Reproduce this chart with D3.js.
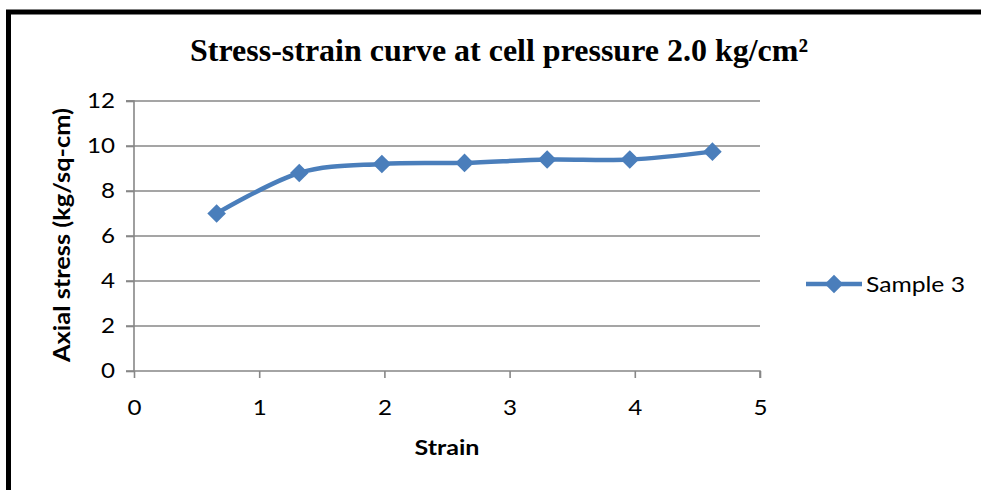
<!DOCTYPE html>
<html><head><meta charset="utf-8">
<script src="https://cdn.jsdelivr.net/npm/d3@7"></script>
<style>body{margin:0;background:#fff}svg{display:block}</style>
</head><body>
<svg id="c" width="981" height="490"></svg>
<script>
const strain = [0.66, 1.32, 1.98, 2.64, 3.30, 3.96, 4.62];
const stress = [7.0, 8.8, 9.2, 9.25, 9.4, 9.4, 9.75];
const xTicks = [0, 1, 2, 3, 4, 5];
const yTicks = [0, 2, 4, 6, 8, 10, 12];
const seriesName = "Sample 3";
const title = "Stress-strain curve at cell pressure 2.0 kg/cm²";
const xTitle = "Strain";
const yTitle = "Axial stress (kg/sq-cm)";

const svg = d3.select("#c");
const blue = "#4A7EBB", grid = "#878787";
const sans = "Lato, 'Open Sans', sans-serif";

function widen(sel, k) {
  sel.each(function () {
    const w = this.getComputedTextLength();
    this.setAttribute("textLength", w * k);
    this.setAttribute("lengthAdjust", "spacingAndGlyphs");
  });
}
function fitTo(sel, target) {
  sel.attr("textLength", target).attr("lengthAdjust", "spacingAndGlyphs");
}

// frame
svg.append("rect").attr("x", 8.5).attr("y", 12).attr("width", 1000).attr("height", 500)
  .attr("fill", "none").attr("stroke", "#000").attr("stroke-width", 5);

const x = d3.scaleLinear().domain([0, 5]).range([134, 760]);
const y = d3.scaleLinear().domain([0, 12]).range([371, 101]);

// gridlines
svg.append("g").selectAll("line").data(yTicks.filter(d => d > 0)).join("line")
  .attr("x1", x(0) - 8).attr("x2", x(5)).attr("y1", d => y(d)).attr("y2", d => y(d))
  .attr("stroke", grid).attr("stroke-width", 1.6);

// axes
const xa = svg.append("g").attr("transform", `translate(0,${y(0)})`)
  .call(d3.axisBottom(x).tickValues(xTicks).tickSize(7).tickPadding(22).tickFormat(d3.format("d")));
const ya = svg.append("g").attr("transform", `translate(${x(0)},0)`)
  .call(d3.axisLeft(y).tickValues(yTicks).tickSize(8).tickPadding(11).tickFormat(d3.format("d")));
[xa, ya].forEach(g => {
  g.select(".domain").attr("stroke", grid).attr("stroke-width", 1.6);
  g.selectAll(".tick line").attr("stroke", grid).attr("stroke-width", 1.6);
  g.selectAll("text").attr("fill", "#000").style("font-family", sans).style("font-size", "21px");
  widen(g.selectAll("text"), 1.15);
});
ya.select(".domain").attr("d", `M-8,${y(12)}H0V${y(0)}H-8`);
xa.select(".domain").attr("d", `M${x(0)},0H${x(5)}V7`);

// series
const pts = strain.map((s, i) => [x(s), y(stress[i])]);
svg.append("path").attr("d", d3.line().curve(d3.curveCatmullRom.alpha(0))(pts))
  .attr("fill", "none").attr("stroke", blue).attr("stroke-width", 4.5).attr("stroke-linejoin", "round");
const diamond = d3.symbol().type(d3.symbolDiamond2).size(220);
svg.append("g").selectAll("path").data(pts).join("path")
  .attr("transform", d => `translate(${d[0]},${d[1]})`).attr("d", diamond).attr("fill", blue);

// title
const t = svg.append("text").attr("x", 499).attr("y", 61).attr("text-anchor", "middle")
  .style("font-family", "'Liberation Serif', 'Times New Roman', serif").style("font-weight", "bold")
  .style("font-size", "32px").text(title);
fitTo(t, 618);

// axis titles
const xt = svg.append("text").attr("x", 447).attr("y", 455).attr("text-anchor", "middle")
  .style("font-family", sans).style("font-weight", "bold").style("font-size", "21px").text(xTitle);
fitTo(xt, 65);
const yt = svg.append("text").attr("transform", `translate(70,${(108 + 362) / 2}) rotate(-90)`).attr("text-anchor", "middle")
  .style("font-family", sans).style("font-weight", "bold").style("font-size", "22px").text(yTitle);
fitTo(yt, 254);

// legend
const ly = 284;
svg.append("line").attr("x1", 806).attr("x2", 862).attr("y1", ly).attr("y2", ly)
  .attr("stroke", blue).attr("stroke-width", 4.5);
svg.append("path").attr("transform", `translate(834,${ly})`).attr("d", diamond).attr("fill", blue);
const lt = svg.append("text").attr("x", 866).attr("y", ly + 8).style("font-family", sans).style("font-size", "21px").text(seriesName);
fitTo(lt, 99);
</script>
</body></html>
